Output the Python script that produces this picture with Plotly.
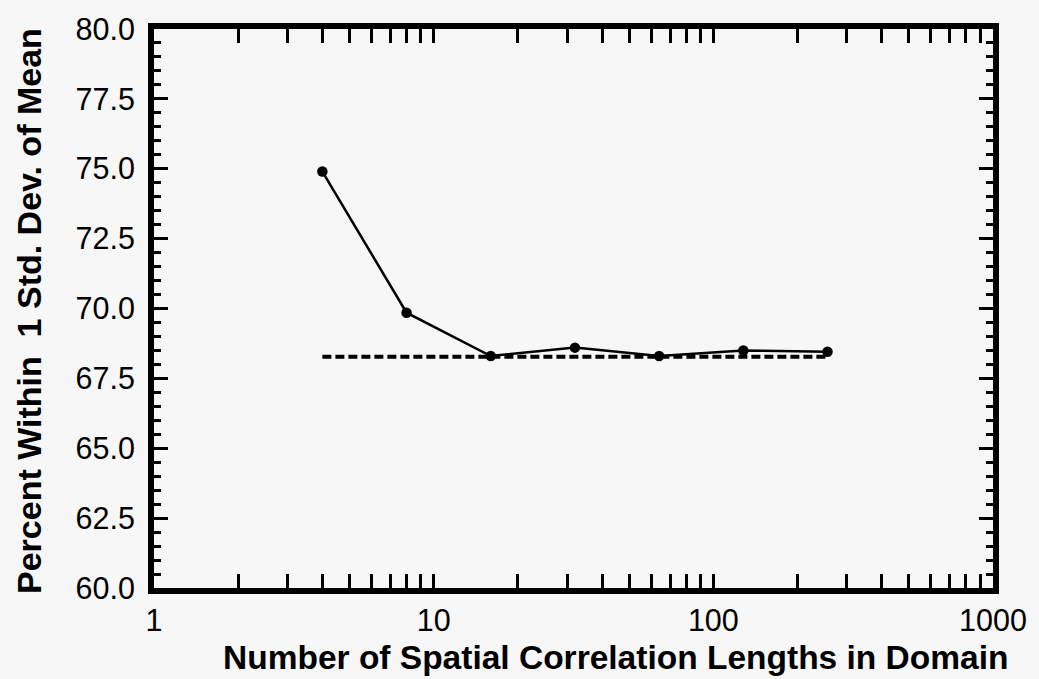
import plotly.graph_objects as go

x_vals = [4, 8, 16, 32, 64, 128, 256]
pct_within = [74.9, 69.85, 68.3, 68.6, 68.3, 68.5, 68.45]
ref_x = [4, 256]
ref_y = [68.27, 68.27]
x_tick_vals = [1, 10, 100, 1000]
x_tick_text = ["1", "10", "100", "1000"]
y_tick_vals = [60.0, 62.5, 65.0, 67.5, 70.0, 72.5, 75.0, 77.5, 80.0]
x_title = "Number of Spatial Correlation Lengths in Domain"
y_title = "Percent Within  1 Std. Dev. of Mean"

minor_x = [m * 10 ** e for e in range(3) for m in range(2, 10)]

fig = go.Figure()
fig.add_trace(go.Scatter(x=ref_x, y=ref_y, mode="lines",
                         line=dict(color="black", width=4, dash="9px,4px"),
                         showlegend=False))
fig.add_trace(go.Scatter(x=x_vals, y=pct_within, mode="lines+markers",
                         line=dict(color="black", width=2.5),
                         marker=dict(color="black", size=10.5),
                         showlegend=False))

font = "Liberation Sans, Arial, Helvetica, sans-serif"
L, R, T, B = 154, 39, 21, 91
W, H = 1039, 679
pw, ph = W - L - R, H - T - B

fig.update_layout(
    width=W, height=H,
    margin=dict(l=L, r=R, t=T, b=B),
    paper_bgcolor="#f7f7f7", plot_bgcolor="#f7f7f7",
    font=dict(family=font, size=30, color="black"),
    yaxis2=dict(overlaying="y", side="left", range=[60, 80],
                tickvals=y_tick_vals, ticktext=[f"{v:.1f}" for v in y_tick_vals],
                ticks="outside", ticklen=12, tickcolor="rgba(0,0,0,0)",
                showline=False, showgrid=False, zeroline=False,
                tickfont=dict(size=30.5)),
)
fig.update_xaxes(
    type="log", range=[0, 3],
    tickvals=x_tick_vals, ticktext=x_tick_text,
    ticks="inside", ticklen=14, tickwidth=2.5, tickcolor="black",
    minor=dict(tickvals=minor_x, ticks="inside", ticklen=7, tickwidth=2.5, tickcolor="black"),
    showline=True, linewidth=6, linecolor="black", mirror="allticks",
    showgrid=False, zeroline=False,
    tickfont=dict(size=30.5),
)
fig.update_yaxes(
    selector=dict(overlaying=None),
    range=[60, 80],
    tickvals=y_tick_vals, showticklabels=False,
    ticks="inside", ticklen=14, tickwidth=2.5, tickcolor="black",
    minor=dict(dtick=0.5, ticks="inside", ticklen=7, tickwidth=2.5, tickcolor="black"),
    showline=True, linewidth=6, linecolor="black", mirror="allticks",
    showgrid=False, zeroline=False,
)
# keep an invisible trace on yaxis2 so the overlay axis is drawn
fig.add_trace(go.Scatter(x=[1], y=[70], yaxis="y2", mode="markers",
                         marker=dict(opacity=0), showlegend=False, hoverinfo="skip"))

fig.add_annotation(text=f"<b>{x_title}</b>", xref="paper", yref="paper",
                   x=(619 - L) / pw, y=(H - B - 658) / ph,
                   xanchor="center", yanchor="middle", showarrow=False,
                   font=dict(size=33.5))
fig.add_annotation(text=f"<b>{y_title}</b>", xref="paper", yref="paper",
                   x=(28 - L) / pw, y=(H - B - 307) / ph, textangle=-90,
                   xanchor="center", yanchor="middle", showarrow=False,
                   font=dict(size=34))

fig.write_html(
    "out.html",
    config={"displayModeBar": False},
    post_script="document.body.style.margin='0';document.body.style.background='#f7f7f7';",
)
